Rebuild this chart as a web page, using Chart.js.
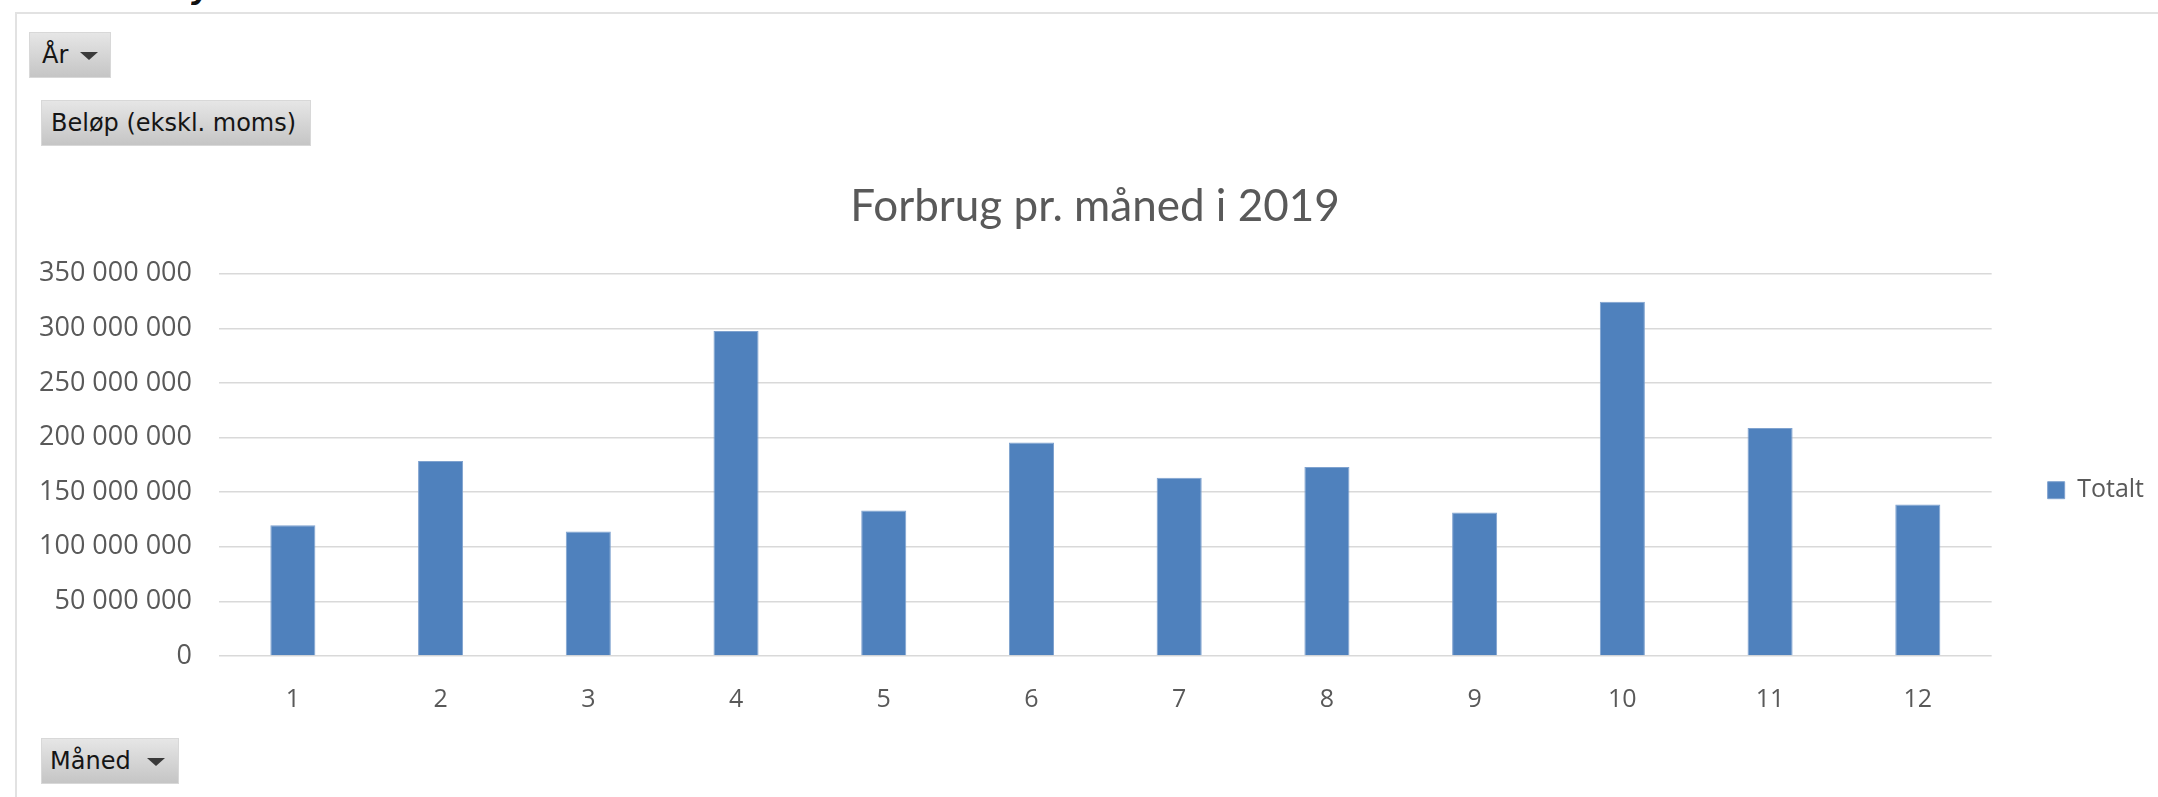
<!DOCTYPE html>
<html>
<head>
<meta charset="utf-8">
<script src="https://cdn.jsdelivr.net/npm/chart.js@4"></script>
<style>
  html, body { margin: 0; padding: 0; background: #fff; }
  body { width: 2158px; height: 797px; position: relative; overflow: hidden; }
  #frame { position: absolute; left: 15px; top: 12px; width: 2200px; height: 900px;
    border-top: 2px solid #e2e2e2; border-left: 2px solid #e2e2e2; }
  #heading { position: absolute; left: 191px; top: 0; height: 9px; overflow: hidden; }
  #heading span { display: block; margin-top: -26px; font: italic bold 30px/30px "DejaVu Sans"; color: #111; }
  .btn { position: absolute; box-sizing: border-box; height: 46px;
    background: linear-gradient(#e6e6e6, #c5c5c5); border: 1px solid #d8d8d8;
    font: 24px "DejaVu Sans"; color: #151515; line-height: 44px; white-space: nowrap; }
  .tri { position: absolute; top: 19px; width: 0; height: 0;
    border-left: 9px solid transparent; border-right: 9px solid transparent; border-top: 8px solid #3a3a3a; }
  #chartWrap { position: absolute; left: 0; top: 0; width: 2158px; height: 797px; }
</style>
</head>
<body>
<div id="heading"><span>y</span></div>
<div id="frame"></div>
<div id="chartWrap"><canvas id="c"></canvas></div>
<div class="btn" style="left:29px; top:32px; width:82px; padding-left:12px;">År<div class="tri" style="left:50px;"></div></div>
<div class="btn" style="left:41px; top:100px; width:270px; padding-left:9px;">Beløp (ekskl. moms)</div>
<div class="btn" style="left:41px; top:738px; width:138px; padding-left:8px;">Måned<div class="tri" style="left:105px;"></div></div>
<script>
const months = ['1','2','3','4','5','6','7','8','9','10','11','12'];
const totals = [119800000, 178500000, 114000000, 297700000, 133300000, 195600000,
                163200000, 173000000, 131400000, 324300000, 208800000, 138700000];
const yTicks = [0, 50000000, 100000000, 150000000, 200000000, 250000000, 300000000, 350000000];
const chartTitle = 'Forbrug pr. måned i 2019';
const seriesName = 'Totalt';

function fmt(v) {
  return String(v).replace(/\B(?=(\d{3})+(?!\d))/g, ' ');
}

const ctx = document.getElementById('c');
new Chart(ctx, {
  type: 'bar',
  data: {
    labels: months,
    datasets: [{
      label: seriesName,
      data: totals,
      backgroundColor: '#4f81bd',
      borderColor: '#7fa2cf',
      borderWidth: 1,
      barPercentage: 0.305,
      categoryPercentage: 1
    }]
  },
  options: {
    responsive: true,
    maintainAspectRatio: false,
    animation: false,
    layout: { padding: { left: 36, right: 4, top: 0, bottom: 0 } },
    scales: {
      x: {
        grid: { display: false },
        border: { display: false },
        ticks: { color: '#595959', font: { family: 'Open Sans', size: 25 }, padding: 21 },
        afterFit: s => { s.height = 141; }
      },
      y: {
        min: 0,
        max: yTicks[yTicks.length - 1],
        afterBuildTicks: s => { s.ticks = yTicks.map(v => ({ value: v })); },
        grid: { color: '#d9d9d9', lineWidth: 1.5, drawTicks: false },
        border: { display: false },
        ticks: { color: '#595959', font: { family: 'Open Sans', size: 27 }, padding: 27, callback: v => fmt(v) },
        afterFit: s => { s.width = 183; }
      }
    },
    plugins: {
      title: {
        display: true,
        text: chartTitle,
        color: '#595959',
        font: { family: 'Lato', size: 44, weight: 'normal' },
        padding: { top: 180, bottom: 41 }
      },
      legend: {
        position: 'right',
        title: { display: true, text: ' ', font: { size: 12 }, padding: { top: 169, bottom: 0 } },
        labels: { boxWidth: 17, boxHeight: 17, color: '#595959', font: { family: 'Open Sans', size: 25 }, padding: 56 }
      },
      tooltip: { enabled: false }
    }
  }
});
</script>
</body>
</html>
